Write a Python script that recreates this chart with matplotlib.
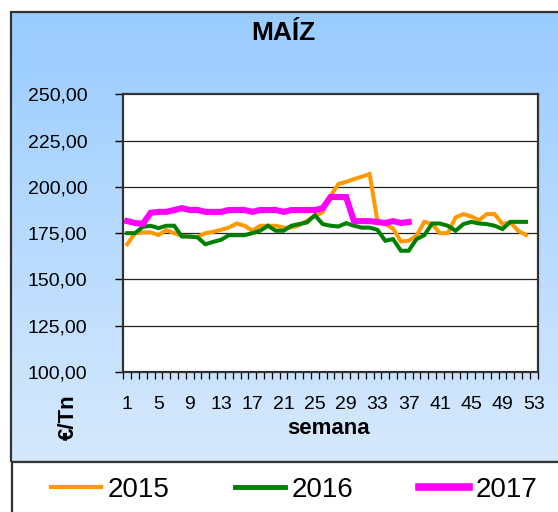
import numpy as np
import matplotlib
matplotlib.use("Agg")
import matplotlib.pyplot as plt
from matplotlib.patches import Rectangle
from matplotlib.lines import Line2D

plt.rcParams["font.family"] = ["Liberation Sans", "DejaVu Sans"]

# data (EUR/Tn per week)
weeks = list(range(1, 54))
maiz_2015 = [169, 175, 175.4, 175.4, 174, 176.6, 175, 173.5, 173, 173,
             175, 175.7, 176.8, 178, 180.2, 179, 176.3, 179, 179, 179,
             178, 178, 179.3, 181.7, 184.4, 186.2, 195, 201.5, 202.7, 204.2,
             205.5, 206.9, 181.7, 179.9, 177.5, 170.5, 170.9, 173.6, 181.1, 179.9,
             175, 175, 183.5, 185.3, 184, 182, 185.3, 185.3, 179.9, 180.8,
             176.3, 174]
maiz_2016 = [175, 175, 178.4, 179, 177.7, 179, 179, 173.2, 173.2, 172.7,
             169, 170.3, 171.4, 173.9, 173.9, 173.9, 175, 176.3, 179, 176.3,
             176.3, 179, 179.9, 180.8, 184.7, 179.9, 179, 178.6, 180.4, 179,
             178, 178, 176.8, 170.9, 171.8, 165.5, 165.5, 171.8, 173.9, 180.2,
             180.2, 179, 176.3, 179.9, 181.1, 180.2, 179.9, 179, 177.2, 181.1,
             181.1, 181.1]
maiz_2017 = [181.5, 180.5, 180, 186, 186.5, 186.5, 187.5, 188.5, 187.5, 187.5,
             186.5, 186.5, 186.5, 187.5, 187.5, 187.5, 186.5, 187.5, 187.5, 187.5,
             186.5, 187.5, 187.5, 187.5, 187.5, 188.5, 194.5, 194.5, 194.5, 181.5,
             181.5, 181.5, 181, 180.5, 181.5, 180.5, 181]
series_names = ["2015", "2016", "2017"]
y_ticks = [100, 125, 150, 175, 200, 225, 250]
x_tick_weeks = list(range(1, 54, 4))

W, H = 558, 512
fig = plt.figure(figsize=(W / 100, H / 100), dpi=100)
fig.patch.set_facecolor("white")

# gradient chart background
fx0, fy0, fy1 = 10.7 / W, 1 - 462 / H, 1 - 12 / H
bg = fig.add_axes([fx0, fy0, 1 - fx0, fy1 - fy0], zorder=-2)
top = np.array([153, 204, 255]) / 255
bot = np.array([214, 233, 252]) / 255
t = np.linspace(0, 1, 256)[:, None]
grad = (top[None, :] * (1 - t) + bot[None, :] * t)[:, None, :]
bg.imshow(grad, aspect="auto", extent=[0, 1, 0, 1])
bg.set_axis_off()
fig.add_artist(Rectangle((fx0, fy0), 1.2, fy1 - fy0, transform=fig.transFigure,
                         fill=False, edgecolor="#333333", lw=1.6, clip_on=False))

# plot area
ax = fig.add_axes([123.3 / W, 1 - 372 / H, (537.7 - 123.3) / W, (372 - 94.3) / H])
ax.set_facecolor("white")
ax.plot(weeks[:len(maiz_2015)], maiz_2015, color="#FF9900", lw=2.9, solid_joinstyle="miter")
ax.plot(weeks[:len(maiz_2016)], maiz_2016, color="#008000", lw=2.9, solid_joinstyle="miter")
ax.plot(weeks[:len(maiz_2017)], maiz_2017, color="#FF00FF", lw=4.4, solid_joinstyle="miter")

ax.set_xlim(0.5, 53.5)
ax.set_ylim(100, 250)
ax.set_yticks(y_ticks)
ax.set_yticklabels([f"{v:.2f}".replace(".", ",") for v in y_ticks], fontsize=14)
ax.set_xticks(x_tick_weeks)
ax.set_xticklabels([str(w) for w in x_tick_weeks], fontsize=14)
ax.set_xticks(np.arange(0.5, 54, 1), minor=True)
ax.tick_params(axis="x", which="major", length=0, pad=17)
ax.tick_params(axis="x", which="minor", length=5, width=0.9, direction="out")
ax.tick_params(axis="y", which="major", length=6, width=1.0, pad=20)
for v in y_ticks[1:-1]:
    ax.axhline(v, color="#222222", lw=0.9, zorder=0.5)
for s in ax.spines.values():
    s.set_color("#333333")
    s.set_linewidth(1.6)

fig.text(283 / W, 1 - 33 / H, "MAÍZ", ha="center", va="center",
         fontsize=19, fontweight="bold")
fig.text(329 / W, 1 - 428 / H, "semana", ha="center", va="center",
         fontsize=16, fontweight="bold")
fig.text(68 / W, 1 - 417 / H, "€/Tn", ha="center", va="center",
         rotation=90, fontsize=16, fontweight="bold")

# legend box
fig.add_artist(Rectangle((12.3 / W, -0.1), 1.2, 0.1 + 1 - 462 / H,
                         transform=fig.transFigure, facecolor="white",
                         edgecolor="#333333", lw=1.6, clip_on=False, zorder=1))
handles = [Line2D([], [], color="#FF9900", lw=3),
           Line2D([], [], color="#008000", lw=3.5),
           Line2D([], [], color="#FF00FF", lw=5.5)]
leg = fig.legend(handles, series_names, loc="center", ncol=3,
                 bbox_to_anchor=(294 / W, 1 - 490 / H), frameon=False,
                 fontsize=20, handlelength=1.8, handletextpad=0.25,
                 columnspacing=2.35)
leg.set_zorder(2)

fig.savefig("out.png", dpi=100)
